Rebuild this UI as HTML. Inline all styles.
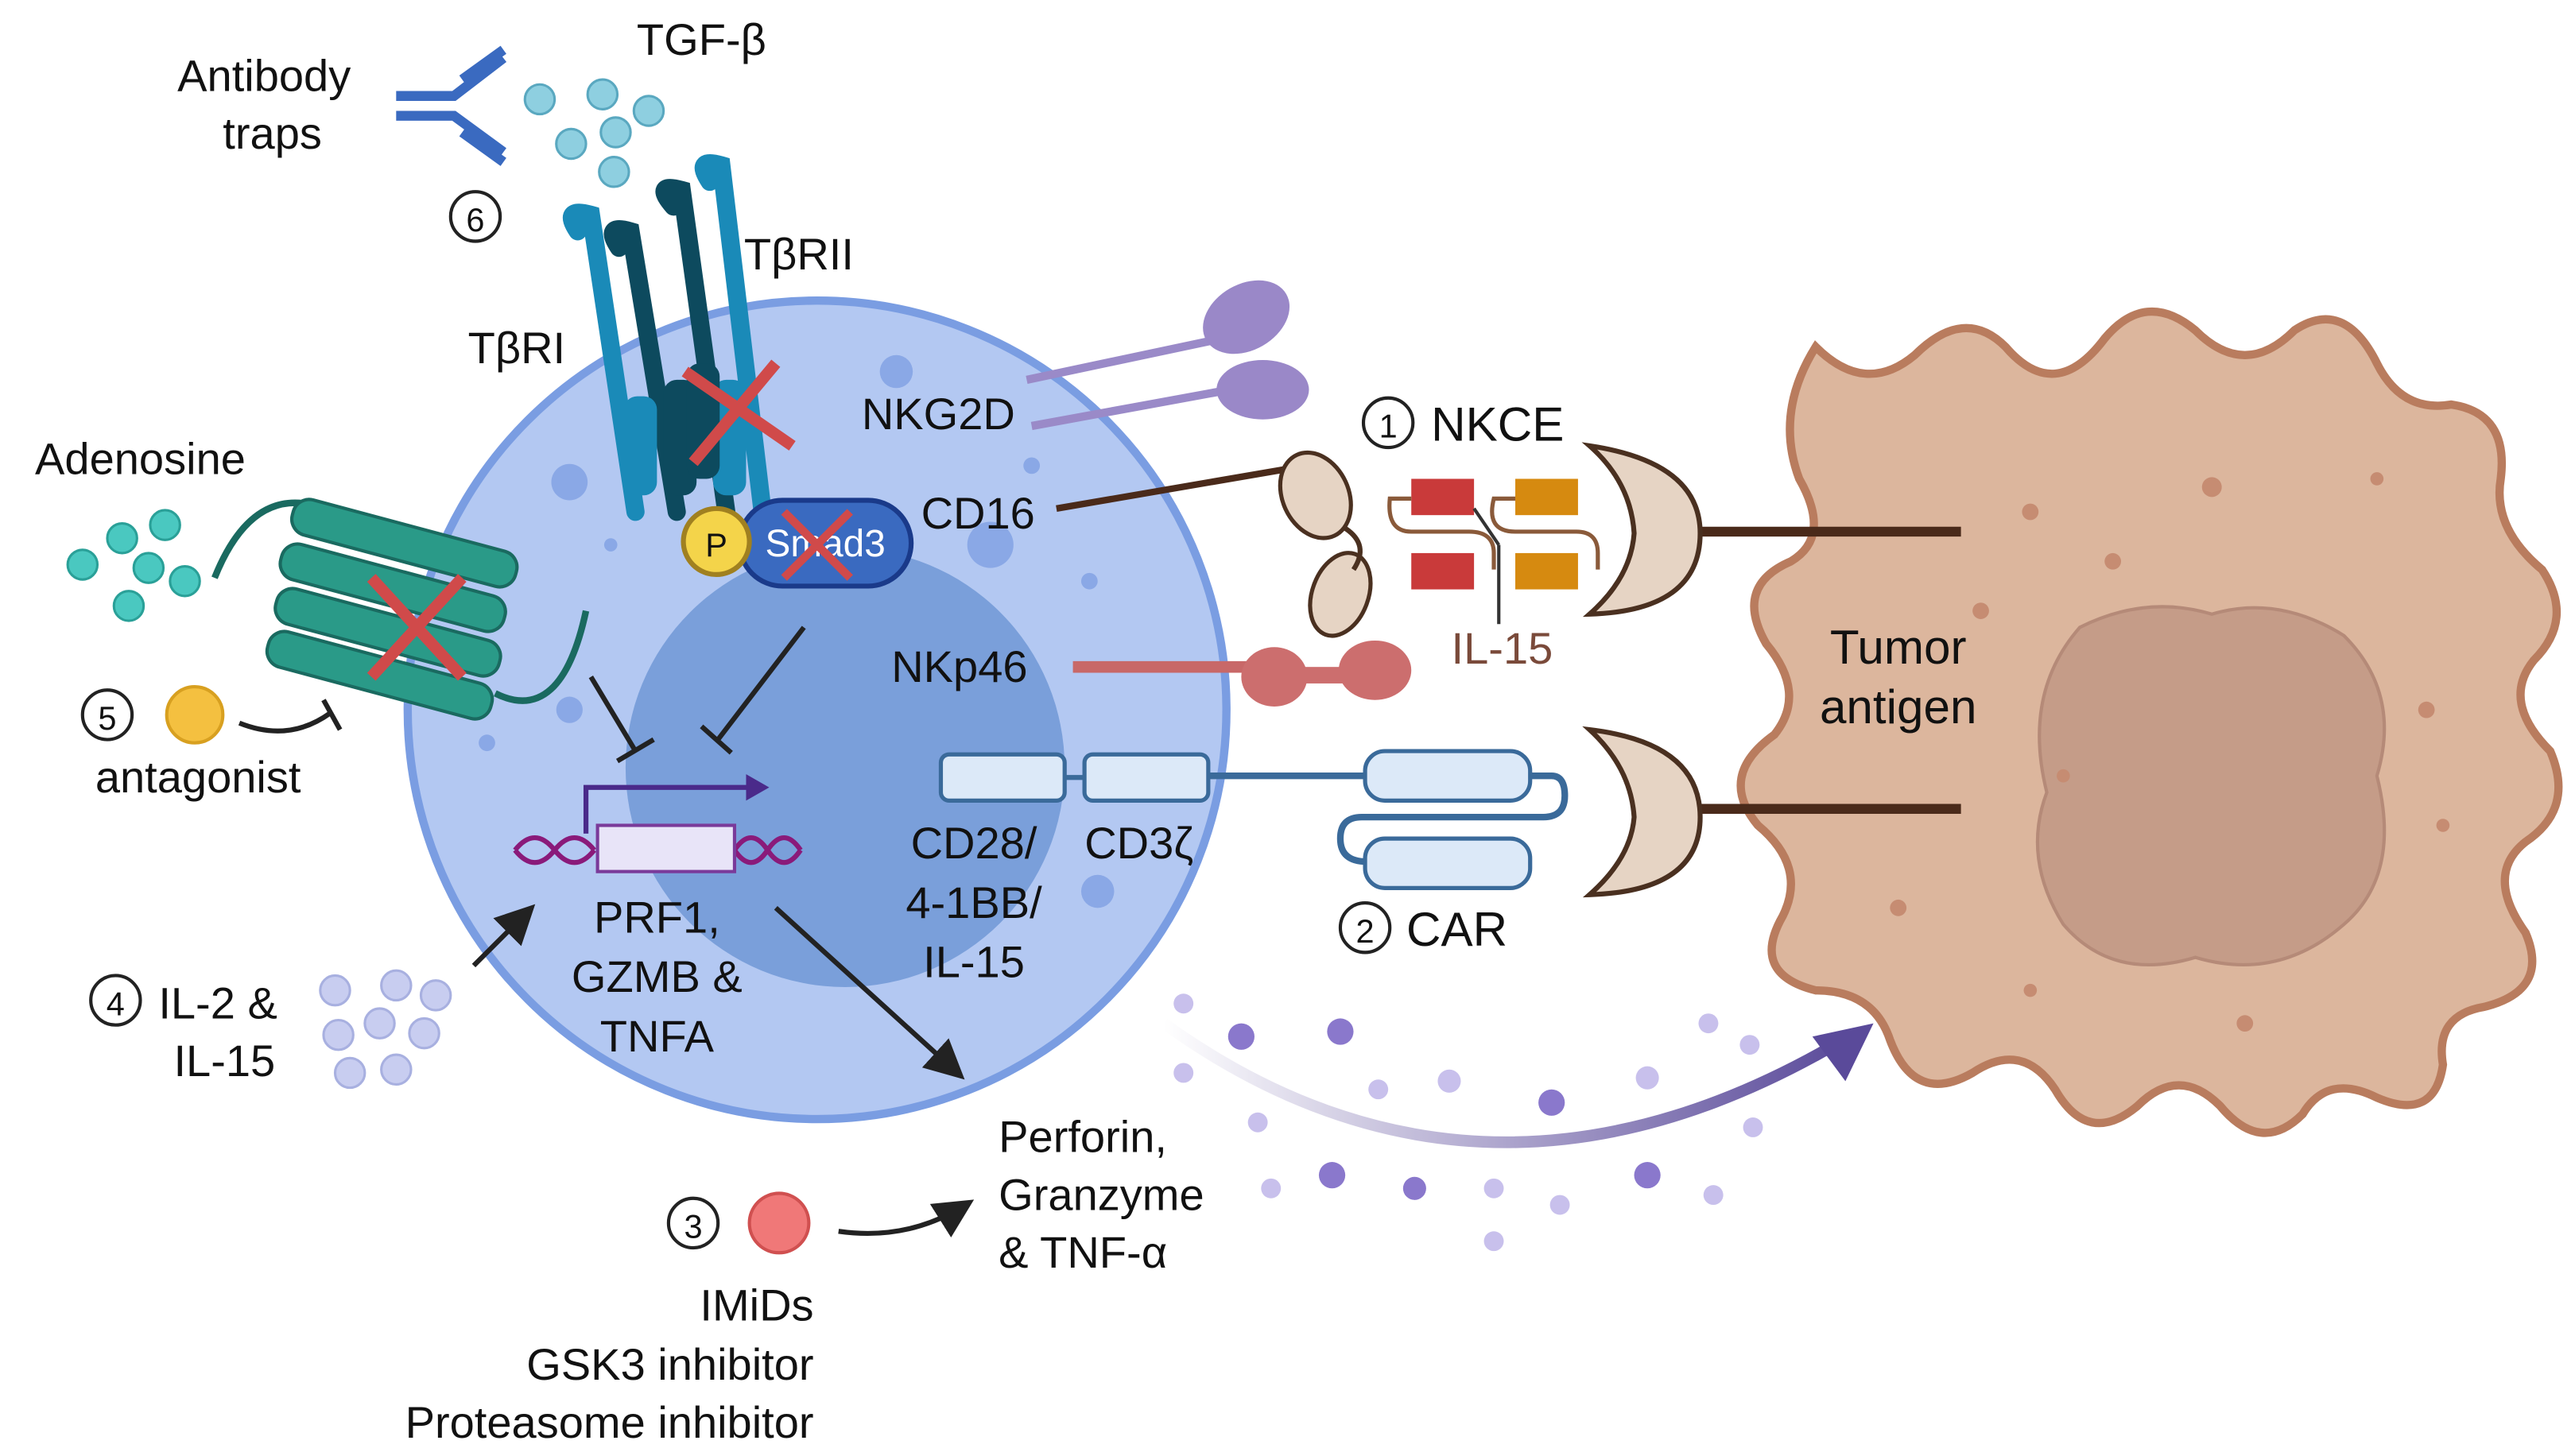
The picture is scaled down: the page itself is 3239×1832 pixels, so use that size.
<!DOCTYPE html>
<html><head><meta charset="utf-8"><style>
html,body{margin:0;padding:0;background:#fff}
svg{display:block}
text{font-family:"Liberation Sans",sans-serif;fill:#111}
</style></head><body>
<svg width="3239" height="1832" viewBox="0 0 1560 882" xmlns="http://www.w3.org/2000/svg">
<defs>
<linearGradient id="ag" x1="0" y1="0" x2="1" y2="0"><stop offset="0" stop-color="#5a4a9a" stop-opacity="0"/><stop offset="1" stop-color="#5a4a9a"/></linearGradient>
<marker id="ah" markerWidth="8" markerHeight="8" refX="6" refY="4" orient="auto"><path d="M0,0 L8,4 L0,8 z" fill="#222"/></marker>
</defs>
<!-- tumor cell -->
<path d="M1100,210 Q1130,240 1160,215 Q1190,185 1215,210 Q1245,245 1275,205 Q1300,175 1330,200 Q1360,230 1390,200 Q1420,180 1440,220 Q1455,250 1485,245 Q1520,250 1515,290 Q1510,320 1540,345 Q1560,375 1535,400 Q1515,425 1545,455 Q1560,490 1530,510 Q1505,530 1530,565 Q1545,600 1505,610 Q1475,615 1480,645 Q1475,680 1440,665 Q1410,650 1395,675 Q1370,700 1345,670 Q1320,645 1295,670 Q1265,695 1245,660 Q1225,630 1195,650 Q1160,670 1145,630 Q1135,600 1100,600 Q1060,590 1080,555 Q1095,525 1065,500 Q1040,470 1075,445 Q1095,420 1070,390 Q1050,355 1085,340 Q1110,325 1090,290 Q1075,250 1100,210 Z" fill="#dcb69d" stroke="#b97c5e" stroke-width="5"/>
<path d="M1260,380 Q1300,360 1340,372 Q1380,360 1420,385 Q1455,420 1440,470 Q1455,530 1420,560 Q1380,595 1330,580 Q1280,595 1250,560 Q1225,520 1240,480 Q1225,420 1260,380 Z" fill="#c59c88" stroke="#b58a78" stroke-width="2"/>
<g fill="#c68c72"><circle cx="1200" cy="370" r="5"/><circle cx="1280" cy="340" r="5"/><circle cx="1440" cy="290" r="4"/><circle cx="1470" cy="430" r="5"/><circle cx="1150" cy="550" r="5"/><circle cx="1360" cy="620" r="5"/><circle cx="1230" cy="600" r="4"/><circle cx="1480" cy="500" r="4"/><circle cx="1340" cy="295" r="6"/><circle cx="1230" cy="310" r="5"/><circle cx="1250" cy="470" r="4"/></g>
<text x="1150" y="402" font-size="29" text-anchor="middle">Tumor</text>
<text x="1150" y="438" font-size="29" text-anchor="middle">antigen</text>
<line x1="1030" y1="322" x2="1188" y2="322" stroke="#4a2a1a" stroke-width="6"/>
<line x1="1030" y1="490" x2="1188" y2="490" stroke="#4a2a1a" stroke-width="6"/>
<!-- NK cell -->
<circle cx="495" cy="430" r="248" fill="#b3c8f2" stroke="#7a9de2" stroke-width="5"/>
<circle cx="512" cy="465" r="133" fill="#7a9fda"/>
<g fill="#8aa8e6"><circle cx="345" cy="292" r="11"/><circle cx="543" cy="225" r="10"/><circle cx="600" cy="330" r="14"/><circle cx="625" cy="282" r="5"/><circle cx="660" cy="352" r="5"/><circle cx="665" cy="540" r="10"/><circle cx="370" cy="330" r="4"/><circle cx="295" cy="450" r="5"/><circle cx="345" cy="430" r="8"/></g>
<!-- inhibition lines -->
<line x1="358" y1="410" x2="385" y2="455" stroke="#222" stroke-width="3"/><line x1="374" y1="461" x2="396" y2="448" stroke="#222" stroke-width="3"/>
<line x1="487" y1="380" x2="435" y2="448" stroke="#222" stroke-width="3"/><line x1="425" y1="440" x2="443" y2="456" stroke="#222" stroke-width="3"/>
<!-- gene -->
<path d="M312,515 q12,-15 24,0 t24,0 M312,515 q12,15 24,0 t24,0 M445,515 q10,-15 20,0 t20,0 M445,515 q10,15 20,0 t20,0" fill="none" stroke="#8a1a7a" stroke-width="3"/>
<rect x="362" y="500" width="83" height="28" fill="#e8e4f8" stroke="#7a3a9a" stroke-width="2"/>
<path d="M355,505 V477 H455" fill="none" stroke="#4a2a8a" stroke-width="3"/><path d="M452,469 L466,477 L452,485 z" fill="#4a2a8a"/>
<text x="398" y="565" font-size="27" text-anchor="middle">PRF1,</text>
<text x="398" y="601" font-size="27" text-anchor="middle">GZMB &amp;</text>
<text x="398" y="637" font-size="27" text-anchor="middle">TNFA</text>
<line x1="470" y1="550" x2="580" y2="650" stroke="#222" stroke-width="3" marker-end="url(#ah)"/>
<!-- CAR -->
<line x1="730" y1="470" x2="830" y2="470" stroke="#3a6a9a" stroke-width="4"/>
<path d="M925,470 H940 Q948,470 948,482 Q948,495 935,495 H825 Q812,495 812,508 Q812,522 828,522" fill="none" stroke="#3a6a9a" stroke-width="4"/>
<g fill="#dce9f8" stroke="#3a6a9a" stroke-width="2.5"><rect x="570" y="457" width="75" height="28" rx="5"/><rect x="657" y="457" width="75" height="28" rx="5"/><rect x="827" y="455" width="100" height="30" rx="12"/><rect x="827" y="508" width="100" height="30" rx="12"/></g>
<line x1="645" y1="471" x2="657" y2="471" stroke="#3a6a9a" stroke-width="3"/>
<text x="590" y="520" font-size="27" text-anchor="middle">CD28/</text>
<text x="690" y="520" font-size="27" text-anchor="middle">CD3ζ</text>
<text x="590" y="556" font-size="27" text-anchor="middle">4-1BB/</text>
<text x="590" y="592" font-size="27" text-anchor="middle">IL-15</text>
<path d="M963,442 Q1030,450 1030,495 Q1030,540 963,542 Q988,520 990,495 Q988,465 963,442 Z" fill="#e6d4c4" stroke="#4a3020" stroke-width="3"/>
<circle cx="827" cy="562" r="15" fill="#fff" stroke="#222" stroke-width="2"/><text x="827" y="571" font-size="20" text-anchor="middle">2</text>
<text x="852" y="573" font-size="29">CAR</text>
<!-- NKp46 -->
<text x="540" y="413" font-size="27">NKp46</text>
<line x1="650" y1="404" x2="770" y2="404" stroke="#c86868" stroke-width="7"/>
<ellipse cx="772" cy="410" rx="20" ry="18" fill="#cc6e6e"/><ellipse cx="833" cy="406" rx="22" ry="18" fill="#cc6e6e"/><rect x="785" y="404" width="30" height="10" fill="#cc6e6e"/>
<!-- CD16 / NKCE -->
<text x="558" y="320" font-size="27">CD16</text>
<line x1="640" y1="308" x2="780" y2="284" stroke="#4a2a1a" stroke-width="4"/>
<ellipse cx="797" cy="300" rx="20" ry="27" fill="#e6d4c4" stroke="#4a3020" stroke-width="2.5" transform="rotate(-25 797 300)"/>
<ellipse cx="812" cy="360" rx="17" ry="26" fill="#e6d4c4" stroke="#4a3020" stroke-width="2.5" transform="rotate(20 812 360)"/>
<path d="M815,320 Q830,330 820,345" fill="none" stroke="#4a3020" stroke-width="3"/>
<g fill="#c93a3a"><rect x="855" y="290" width="38" height="22"/><rect x="855" y="335" width="38" height="22"/></g>
<g fill="#d68a10"><rect x="918" y="290" width="38" height="22"/><rect x="918" y="335" width="38" height="22"/></g>
<path d="M855,302 H842 Q840,322 855,322 H890 Q905,322 905,335 V345 M918,302 H905 Q900,322 918,322 H955 Q968,322 968,335 V345" fill="none" stroke="#8a5a3a" stroke-width="2.5"/>
<line x1="893" y1="308" x2="908" y2="330" stroke="#333" stroke-width="2"/><line x1="908" y1="330" x2="908" y2="378" stroke="#333" stroke-width="2"/>
<text x="910" y="402" font-size="27" text-anchor="middle" style="fill:#7a4a3a">IL-15</text>
<path d="M963,270 Q1030,280 1030,323 Q1030,370 963,372 Q988,350 990,323 Q988,292 963,270 Z" fill="#e6d4c4" stroke="#4a3020" stroke-width="3"/>
<circle cx="841" cy="256" r="15" fill="#fff" stroke="#222" stroke-width="2"/><text x="841" y="265" font-size="20" text-anchor="middle">1</text>
<text x="867" y="267" font-size="29">NKCE</text>
<!-- NKG2D -->
<text x="522" y="260" font-size="27">NKG2D</text>
<line x1="622" y1="230" x2="740" y2="205" stroke="#9a8ac8" stroke-width="5"/>
<line x1="625" y1="258" x2="745" y2="236" stroke="#9a8ac8" stroke-width="5"/>
<ellipse cx="755" cy="192" rx="28" ry="20" fill="#9a88c8" transform="rotate(-30 755 192)"/>
<ellipse cx="765" cy="236" rx="28" ry="18" fill="#9a88c8"/>
<!-- TGF receptors -->
<g stroke-linecap="round" fill="none">
<path d="M350,140 Q340,125 358,130 L385,310" stroke="#1a8ab8" stroke-width="11"/>
<path d="M375,150 Q365,135 382,140 L410,310" stroke="#0d4a5e" stroke-width="11"/>
<path d="M408,125 Q395,110 413,115 L440,310" stroke="#0d4a5e" stroke-width="11"/>
<path d="M430,110 Q420,95 437,100 L462,310" stroke="#1a8ab8" stroke-width="11"/>
</g>
<g fill="#1a8ab8"><rect x="378" y="240" width="20" height="60" rx="8"/><rect x="432" y="230" width="20" height="70" rx="8"/></g>
<g fill="#0d4a5e"><rect x="402" y="230" width="20" height="70" rx="8"/><rect x="416" y="220" width="20" height="70" rx="8"/></g>
<path d="M415,225 L480,270 M470,220 L420,280" stroke="#d04a4a" stroke-width="7"/>
<text x="313" y="220" font-size="27" text-anchor="middle">TβRI</text>
<text x="484" y="163" font-size="27" text-anchor="middle">TβRII</text>
<rect x="448" y="303" width="104" height="52" rx="26" fill="#3a6ac0" stroke="#1a3a8a" stroke-width="3"/>
<text x="500" y="337" font-size="23" text-anchor="middle" style="fill:#fff">Smad3</text>
<path d="M475,310 L515,350 M515,310 L475,350" stroke="#d04a4a" stroke-width="5"/>
<circle cx="434" cy="328" r="20" fill="#f4d44a" stroke="#a08020" stroke-width="3"/><text x="434" y="337" font-size="20" text-anchor="middle">P</text>
<!-- TGF beta & traps -->
<text x="160" y="55" font-size="27" text-anchor="middle">Antibody</text>
<text x="165" y="90" font-size="27" text-anchor="middle">traps</text>
<g stroke="#3a6ac0" stroke-width="6" fill="none"><path d="M240,58 H275 L305,35 M240,70 H275 L305,92 M280,48 L305,30 M280,80 L305,98"/></g>
<text x="425" y="33" font-size="27" text-anchor="middle">TGF-β</text>
<g fill="#8ecfe0" stroke="#5aa8c0" stroke-width="1.5"><circle cx="327" cy="60" r="9"/><circle cx="365" cy="57" r="9"/><circle cx="393" cy="67" r="9"/><circle cx="346" cy="87" r="9"/><circle cx="373" cy="80" r="9"/><circle cx="372" cy="104" r="9"/></g>
<circle cx="288" cy="131" r="15" fill="#fff" stroke="#222" stroke-width="2"/><text x="288" y="140" font-size="20" text-anchor="middle">6</text>
<!-- adenosine receptor -->
<text x="85" y="287" font-size="27" text-anchor="middle">Adenosine</text>
<g fill="#4ac8c0" stroke="#2aa098" stroke-width="1.5"><circle cx="50" cy="342" r="9"/><circle cx="74" cy="326" r="9"/><circle cx="100" cy="318" r="9"/><circle cx="90" cy="344" r="9"/><circle cx="112" cy="352" r="9"/><circle cx="78" cy="367" r="9"/></g>
<path d="M130,350 Q150,300 185,305" fill="none" stroke="#1a6a60" stroke-width="4"/>
<g fill="#2a9a88" stroke="#1a6a60" stroke-width="2">
<rect x="175" y="318" width="140" height="22" rx="10" transform="rotate(15 245 329)"/>
<rect x="168" y="345" width="140" height="22" rx="10" transform="rotate(15 238 356)"/>
<rect x="165" y="372" width="140" height="22" rx="10" transform="rotate(15 235 383)"/>
<rect x="160" y="398" width="140" height="22" rx="10" transform="rotate(15 230 409)"/>
</g>
<path d="M300,420 Q340,440 355,370" fill="none" stroke="#1a6a60" stroke-width="4"/>
<path d="M225,350 L280,410 M280,350 L225,410" stroke="#d04a4a" stroke-width="7"/>
<circle cx="65" cy="433" r="15" fill="#fff" stroke="#222" stroke-width="2"/><text x="65" y="442" font-size="20" text-anchor="middle">5</text>
<circle cx="118" cy="433" r="17" fill="#f4c040" stroke="#d8a020" stroke-width="2"/>
<path d="M145,438 Q175,450 200,432" fill="none" stroke="#222" stroke-width="3"/><line x1="196" y1="424" x2="206" y2="442" stroke="#222" stroke-width="3"/>
<text x="120" y="480" font-size="27" text-anchor="middle">antagonist</text>
<!-- IL-2 -->
<circle cx="70" cy="606" r="15" fill="#fff" stroke="#222" stroke-width="2"/><text x="70" y="615" font-size="20" text-anchor="middle">4</text>
<text x="96" y="617" font-size="27">IL-2 &amp;</text>
<text x="136" y="652" font-size="27" text-anchor="middle">IL-15</text>
<g fill="#c8cdf0" stroke="#a8b0e0" stroke-width="1.5"><circle cx="203" cy="600" r="9"/><circle cx="240" cy="597" r="9"/><circle cx="264" cy="603" r="9"/><circle cx="205" cy="627" r="9"/><circle cx="230" cy="620" r="9"/><circle cx="257" cy="626" r="9"/><circle cx="212" cy="650" r="9"/><circle cx="240" cy="648" r="9"/></g>
<line x1="287" y1="585" x2="320" y2="552" stroke="#222" stroke-width="3" marker-end="url(#ah)"/>
<!-- secreted -->
<path d="M705,620 Q900,760 1120,628" fill="none" stroke="url(#ag)" stroke-width="7"/>
<path d="M1135,620 L1098,628 L1118,655 z" fill="#5a4a9a"/>
<g fill="#8a78cc"><circle cx="752" cy="628" r="8"/><circle cx="812" cy="625" r="8"/><circle cx="940" cy="668" r="8"/><circle cx="807" cy="712" r="8"/><circle cx="998" cy="712" r="8"/><circle cx="857" cy="720" r="7"/></g>
<g fill="#c8c0ec"><circle cx="717" cy="608" r="6"/><circle cx="717" cy="650" r="6"/><circle cx="835" cy="660" r="6"/><circle cx="878" cy="655" r="7"/><circle cx="998" cy="653" r="7"/><circle cx="1035" cy="620" r="6"/><circle cx="1062" cy="683" r="6"/><circle cx="770" cy="720" r="6"/><circle cx="905" cy="720" r="6"/><circle cx="945" cy="730" r="6"/><circle cx="1038" cy="724" r="6"/><circle cx="905" cy="752" r="6"/><circle cx="1060" cy="633" r="6"/><circle cx="762" cy="680" r="6"/></g>
<text x="605" y="698" font-size="27">Perforin,</text>
<text x="605" y="733" font-size="27">Granzyme</text>
<text x="605" y="768" font-size="27">&amp; TNF-α</text>
<circle cx="420" cy="741" r="15" fill="#fff" stroke="#222" stroke-width="2"/><text x="420" y="750" font-size="20" text-anchor="middle">3</text>
<circle cx="472" cy="741" r="18" fill="#f07878" stroke="#d05050" stroke-width="2"/>
<path d="M508,746 Q550,752 585,730" fill="none" stroke="#222" stroke-width="3" marker-end="url(#ah)"/>
<text x="493" y="800" font-size="27" text-anchor="end">IMiDs</text>
<text x="493" y="836" font-size="27" text-anchor="end">GSK3 inhibitor</text>
<text x="493" y="871" font-size="27" text-anchor="end">Proteasome inhibitor</text>
</svg>
</body></html>
